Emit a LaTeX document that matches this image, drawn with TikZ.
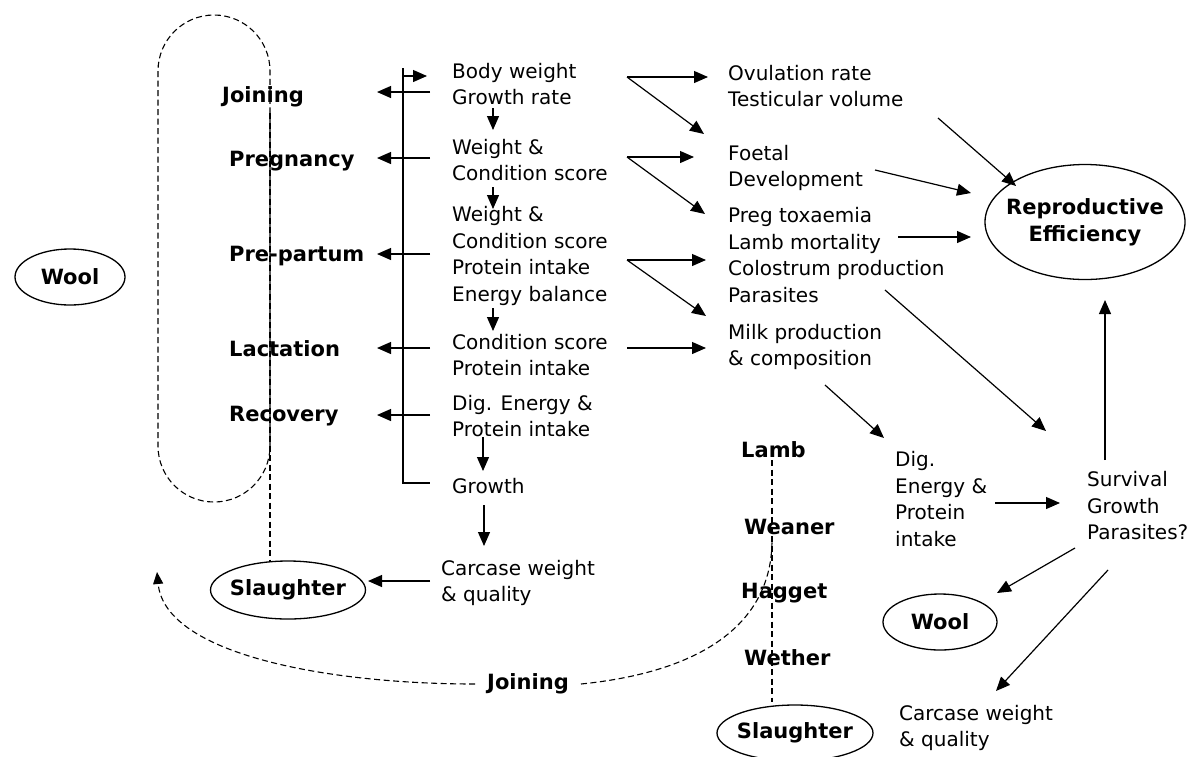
\documentclass[tikz,border=0pt]{standalone}
\usepackage{fontspec}
\setmainfont{DejaVu Sans}
\usetikzlibrary{arrows.meta,shapes.geometric}
\begin{document}
\begin{tikzpicture}[x=1pt,y=-1pt,
  txt/.style={font=\fontsize{20}{26.5}\selectfont, align=left, inner sep=0pt, anchor=west},
  lbl/.style={font=\bfseries\fontsize{21}{25}\selectfont, inner sep=0pt, anchor=west},
  oval/.style={ellipse, draw, line width=1.3pt, font=\bfseries\fontsize{21}{27}\selectfont, inner xsep=-20pt, inner ysep=-10pt, align=center},
  ln/.style={line width=1.2pt},
  arr/.style={line width=1.2pt, -{Triangle[length=14pt,width=12pt]}},
  dsh/.style={line width=1.1pt, dash pattern=on 6pt off 3.5pt},
  darr/.style={dsh, -{Triangle[length=12pt,width=10pt]}}]
\useasboundingbox (0,0) rectangle (1196,756);

% left labels
\node[lbl] (join) at (222,97) {Joining};
\node[lbl] (preg) at (229,161) {Pregnancy};
\node[lbl] (prep) at (229,256) {Pre-partum};
\node[lbl] (lact) at (229,349) {Lactation};
\node[lbl] (reco) at (229,416) {Recovery};
\node[oval, minimum width=110pt, minimum height=56pt] (woolL) at (70,277) {Wool};

% middle column
\node[txt] (bw) at (452,84) {Body weight\\Growth rate};
\node[txt] (wc1) at (452,160) {Weight \&\\Condition score};
\node[txt] (wc2) at (452,256) {Weight \&\\Condition score\\Protein intake\\Energy balance};
\node[txt] (cs) at (452,355) {Condition score\\Protein intake};
\node[txt] (dig) at (452,416) {Dig. Energy \&\\Protein intake};
\node[txt] (gro) at (452,486) {Growth};
\node[txt] (carL) at (441,583) {Carcase weight\\\& quality};
\node[oval, minimum width=155pt, minimum height=58pt] (slL) at (288,590) {Slaughter};

% right column
\node[txt] (ovu) at (728,86) {Ovulation rate\\Testicular volume};
\node[txt] (foe) at (728,168) {Foetal\\Development};
\node[txt] (ptx) at (728,255) {Preg toxaemia\\Lamb mortality\\Colostrum production\\Parasites};
\node[txt] (milk) at (728,347) {Milk production\\\& composition};
\node[oval, minimum width=200pt, minimum height=115pt] (re) at (1085,222) {Reproductive\\Efficiency};
\node[txt] (dig2) at (895,499) {Dig.\\Energy \&\\Protein\\intake};
\node[txt] (surv) at (1087,506) {Survival\\Growth\\Parasites?};
\node[oval, minimum width=114pt, minimum height=56pt] (woolR) at (940,622) {Wool};
\node[txt] (carR) at (899,728) {Carcase weight\\\& quality};

% lamb column
\node[lbl] (lamb) at (741,450) {Lamb};
\node[lbl] (wean) at (744,527) {Weaner};
\node[lbl] (hogg) at (741,593) {Hagget};
\node[lbl] (weth) at (744,658) {Wether};
\node[oval, minimum width=156pt, minimum height=56pt] (slR) at (795,733) {Slaughter};
\node[lbl, anchor=center] (joinB) at (528,684) {Joining};

% coordinates
\coordinate (vt) at (403,68);
\coordinate (vb) at (403,483);
\coordinate (ve) at (430,483);
\coordinate (ta) at (403,76);
\coordinate (tb) at (427,76);

% dashed loop and lines
\draw[dsh, rounded corners=56pt] (158,15) rectangle (270,502);
\coordinate (lvt) at (270,113);
\draw[dsh] (lvt) -- (lvt |- slL.north);
\coordinate (rvt) at (772,460);
\draw[dsh] (rvt) -- ([yshift=2pt]rvt |- slR.north);
\draw[darr] ([xshift=-12pt]joinB.west) .. controls (330,684) and (165,655) .. (157,572);
\draw[dsh] ([xshift=12pt]joinB.east) .. controls (700,672) and (772,625) .. (772,540);

% bracket
\draw[ln] (vt) -- (vb) -- (ve);
\draw[arr] (ta) -- (tb);
\draw[arr] (430,92) -- (377,92);
\draw[arr] (430,158) -- (377,158);
\draw[arr] (430,254) -- (377,254);
\draw[arr] (430,348) -- (377,348);
\draw[arr] (430,415) -- (377,415);

% small down arrows
\draw[arr] (493,108) -- (493,130);
\draw[arr] (493,187) -- (493,209);
\draw[arr] (493,308) -- (493,331);
\draw[arr] (483,437) -- (483,471);
\draw[arr] (484,505) -- (484,546);
\draw[arr] (430,581) -- (368,581);

% middle to right
\draw[arr] (627,77) -- (708,77);
\draw[arr] (627,77) -- (704,134);
\draw[arr] (627,157) -- (694,157);
\draw[arr] (627,157) -- (705,214);
\draw[arr] (627,260) -- (706,260);
\draw[arr] (627,260) -- (706,316);
\draw[arr] (627,348) -- (706,348);

% into RE
\draw[arr] (938,118) -- (1016,186);
\draw[arr] (875,170) -- (971,193);
\draw[arr] (898,237) -- (971,237);
\draw[arr] (885,290) -- (1046,431);
\draw[arr] (1105,460) -- (1105,300);
\draw[arr] (825,385) -- (884,438);
\draw[arr] (995,503) -- (1060,503);
\draw[arr] (1075,548) -- (997,593);
\draw[arr] (1108,570) -- (996,691);
\end{tikzpicture}
\end{document}
